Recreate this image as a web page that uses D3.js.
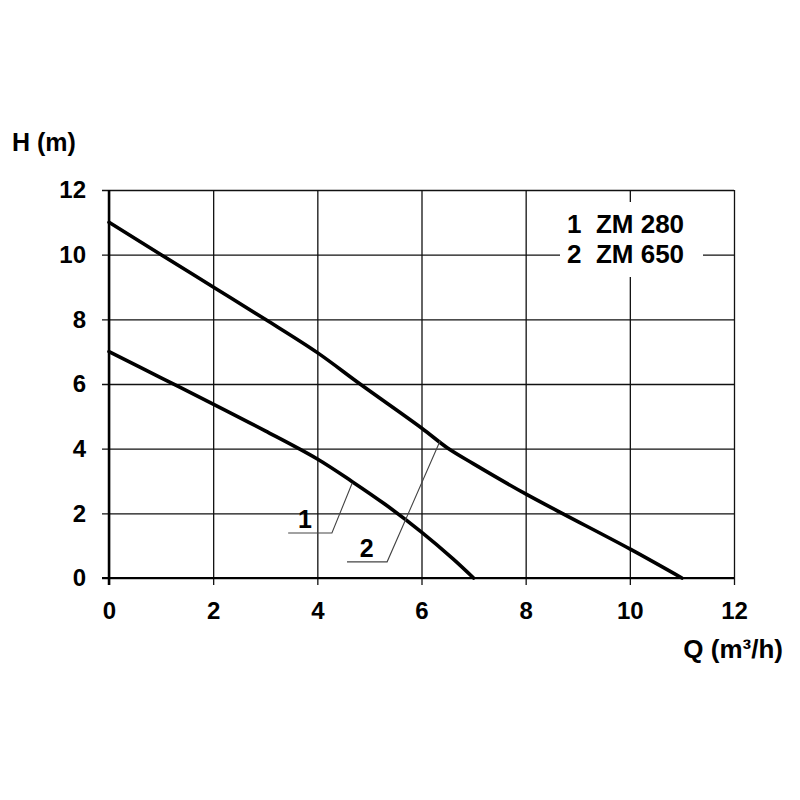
<!DOCTYPE html>
<html lang="en">
    <head>
        <meta charset="utf-8">
        <title>Pump curves ZM 280 / ZM 650</title>
        <script src="https://cdn.jsdelivr.net/npm/d3@7"></script>
        <style type="text/css">
            body { margin: 0; background: #fff; }
            text {
                font-family: "Liberation Sans", Arial, sans-serif;
                font-weight: bold;
                fill: #000;
            }
            .grid line { stroke: #111; stroke-width: 1.3; }
            .grid text { font-size: 24px; }
        </style>
    </head>
    <body>
        <script type="text/javascript">
            // ticks on both axes
            const qTicks = [0, 2, 4, 6, 8, 10, 12]
            const hTicks = [0, 2, 4, 6, 8, 10, 12]

            // ZM 280 (curve 1): flow Q in m3/h, head H in m
            const q280 = [0, 1, 2, 3, 4, 4.67, 5.3, 6, 6.6, 7]
            const h280 = [7, 6.19, 5.38, 4.55, 3.68, 2.98, 2.28, 1.42, 0.6, 0]

            // ZM 650 (curve 2)
            const q650 = [0, 1, 2, 3, 4, 4.82, 6, 6.5, 7, 8, 8.7, 10, 11]
            const h650 = [11, 10, 9, 8, 6.97, 6, 4.64, 4.02, 3.53, 2.6, 2, 0.9, 0]

            const legendLines = ["1  ZM 280", "2  ZM 650"]

            // curve labels with their leader lines (in data units)
            const callouts = [
                { label: "1", q0: 3.44, q1: 4.28, h: 1.39, tq: 4.67, th: 2.94, lq: 3.76, lh: 1.55 },
                { label: "2", q0: 4.57, q1: 5.34, h: 0.5, tq: 6.36, th: 4.25, lq: 4.95, lh: 0.65 }
            ]

            const w = 800
            const h = 800
            const padL = 109, padR = 734, padT = 190, padB = 578
            const tickOut = 7

            const svg = d3.select("body")
                            .append("svg")
                            .attr("width", w)
                            .attr("height", h)

            const xScale = d3.scaleLinear()
                            .domain([0, 12])
                            .range([padL, padR])

            const yScale = d3.scaleLinear()
                            .domain([0, 12])
                            .range([padB, padT])

            // horizontal grid + y labels
            const yAxis = d3.axisLeft(yScale)
                            .tickValues(hTicks)
                            .tickSize(-(padR - padL + tickOut))
                            .tickPadding(16)

            svg.append("g")
                .attr("class", "grid")
                .attr("transform", `translate(${padL - tickOut}, 0)`)
                .call(yAxis)
                .call(g => g.select(".domain").remove())

            // vertical grid + x labels
            const xAxis = d3.axisBottom(xScale)
                            .tickValues(qTicks)
                            .tickSize(-(padB + tickOut - padT))
                            .tickPadding(17)

            svg.append("g")
                .attr("class", "grid")
                .attr("transform", `translate(0, ${padB + tickOut})`)
                .call(xAxis)
                .call(g => g.select(".domain").remove())

            // heavier axis lines
            svg.append("line")
                .attr("x1", xScale(0)).attr("x2", xScale(0))
                .attr("y1", yScale(12)).attr("y2", yScale(0) + tickOut)
                .attr("stroke", "#000").attr("stroke-width", 2.5)
            svg.append("line")
                .attr("x1", xScale(0) - tickOut).attr("x2", xScale(12))
                .attr("y1", yScale(0)).attr("y2", yScale(0))
                .attr("stroke", "#000").attr("stroke-width", 2.2)

            // legend, on a white patch over the grid
            svg.append("rect")
                .attr("x", 560).attr("y", 202)
                .attr("width", 143).attr("height", 75)
                .attr("fill", "#fff")

            svg.selectAll(".legend")
                .data(legendLines)
                .enter()
                .append("text")
                .attr("class", "legend")
                .attr("x", 567)
                .attr("y", (_, i) => 233 + i * 29.5)
                .style("font-size", "26px")
                .style("white-space", "pre")
                .text(d => d)

            // curves
            const line = d3.line()
                            .x(d => xScale(d[0]))
                            .y(d => yScale(d[1]))
                            .curve(d3.curveCatmullRom.alpha(0.5))

            const series = [d3.zip(q280, h280), d3.zip(q650, h650)]

            svg.selectAll(".curve")
                .data(series)
                .enter()
                .append("path")
                .attr("class", "curve")
                .attr("d", line)
                .attr("fill", "none")
                .attr("stroke", "#000")
                .attr("stroke-width", 3.6)
                .attr("stroke-linecap", "round")

            // callouts
            const co = svg.selectAll(".callout")
                            .data(callouts)
                            .enter()
                            .append("g")
                            .attr("class", "callout")

            co.append("polyline")
                .attr("points", d => [
                    [xScale(d.q0), yScale(d.h)],
                    [xScale(d.q1), yScale(d.h)],
                    [xScale(d.tq), yScale(d.th)]
                ].join(" "))
                .attr("fill", "none")
                .attr("stroke", "#444")
                .attr("stroke-width", 1.1)

            co.append("text")
                .attr("x", d => xScale(d.lq))
                .attr("y", d => yScale(d.lh))
                .attr("text-anchor", "middle")
                .style("font-size", "25px")
                .text(d => d.label)

            // axis titles
            svg.append("text")
                .attr("x", 12)
                .attr("y", 151)
                .style("font-size", "25px")
                .text("H (m)")

            svg.append("text")
                .attr("x", 783)
                .attr("y", 658)
                .attr("text-anchor", "end")
                .style("font-size", "26px")
                .text("Q (m³/h)")
        </script>
    </body>
</html>
